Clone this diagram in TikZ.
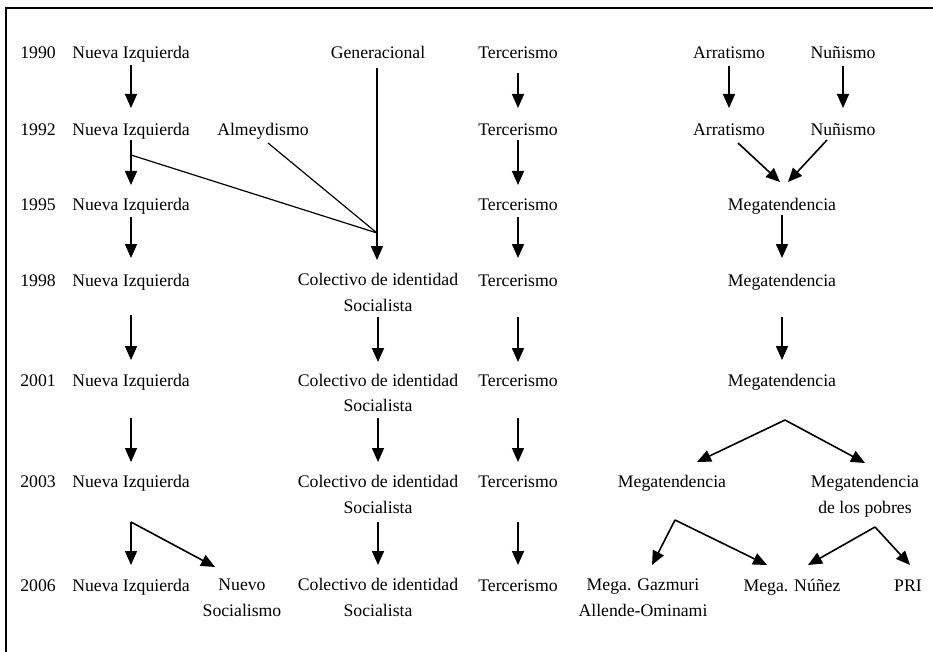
\documentclass[tikz,border=0pt]{standalone}
\usepackage{fontspec}
\setmainfont{Liberation Serif}
\usetikzlibrary{arrows.meta}
\newcommand{\mystrut}{\rule[-4pt]{0pt}{16.5pt}}
\begin{document}
\begin{tikzpicture}[x=1pt,y=-1pt,
  lbl/.style={inner sep=0pt, align=center, font=\fontsize{17.7}{25.5}\selectfont,
    execute at begin node=\mystrut, execute at end node=\mystrut},
  varr/.style={line width=1.6pt, -{Triangle[width=12pt,length=14pt]}},
  plainline/.style={line width=1.2pt},
  frameline/.style={line width=2pt}]
\useasboundingbox (0,0) rectangle (933,652);
\draw[frameline] (6.2,652) -- (6.2,8.3) -- (933,8.3);

% years
\node[lbl] (y90) at (38,54) {1990};
\node[lbl] (y92) at (38,131) {1992};
\node[lbl] (y95) at (38,206) {1995};
\node[lbl] (y98) at (38,282) {1998};
\node[lbl] (y01) at (38,382) {2001};
\node[lbl] (y03) at (38,483) {2003};
\node[lbl] (y06) at (38,587) {2006};

% Nueva Izquierda column
\node[lbl] (ni90) at (131,54) {Nueva Izquierda};
\node[lbl] (ni92) at (131,131) {Nueva Izquierda};
\node[lbl] (ni95) at (131,206) {Nueva Izquierda};
\node[lbl] (ni98) at (131,282) {Nueva Izquierda};
\node[lbl] (ni01) at (131,382) {Nueva Izquierda};
\node[lbl] (ni03) at (131,483) {Nueva Izquierda};
\node[lbl] (ni06) at (131,587) {Nueva Izquierda};
\node[lbl] (ns) at (242,599.5) {Nuevo\\Socialismo};

% Almeydismo / Generacional / Colectivo
\node[lbl] (alm) at (263,131) {Almeydismo};
\node[lbl] (gen) at (378,54) {Generacional};
\node[lbl] (cis98) at (378,294.5) {Colectivo de identidad\\Socialista};
\node[lbl] (cis01) at (378,395) {Colectivo de identidad\\Socialista};
\node[lbl] (cis03) at (378,496.5) {Colectivo de identidad\\Socialista};
\node[lbl] (cis06) at (378,599.5) {Colectivo de identidad\\Socialista};
\coordinate (J) at (377,233);

% Tercerismo
\node[lbl] (ter90) at (518,54) {Tercerismo};
\node[lbl] (ter92) at (518,131) {Tercerismo};
\node[lbl] (ter95) at (518,206) {Tercerismo};
\node[lbl] (ter98) at (518,282) {Tercerismo};
\node[lbl] (ter01) at (518,382) {Tercerismo};
\node[lbl] (ter03) at (518,483) {Tercerismo};
\node[lbl] (ter06) at (518,587) {Tercerismo};

% right side
\node[lbl] (arr90) at (729,54) {Arratismo};
\node[lbl] (nun90) at (843,54) {Nuñismo};
\node[lbl] (arr92) at (729,131) {Arratismo};
\node[lbl] (nun92) at (843,131) {Nuñismo};
\node[lbl] (mega95) at (782,206) {Megatendencia};
\node[lbl] (mega98) at (782,282) {Megatendencia};
\node[lbl] (mega01) at (782,382) {Megatendencia};
\node[lbl] (megaL) at (672,483) {Megatendencia};
\node[lbl] (megaP) at (865,496.5) {Megatendencia\\de los pobres};
\node[lbl] (gaz) at (643,599.5) {Mega. Gazmuri\\Allende-Ominami};
\node[lbl] (nun06) at (792,587) {Mega. Núñez};
\node[lbl] (pri) at (908,587) {PRI};

% Nueva Izquierda arrows
\draw[varr] ([yshift=-11pt]ni90.center) -- ([yshift=23pt]ni92.center);
\draw[varr] ([yshift=-9pt]ni92.center) -- ([yshift=21pt]ni95.center);
\draw[varr] ([yshift=-11pt]ni95.center) -- ([yshift=24pt]ni98.center);
\draw[varr] ([yshift=-33pt]ni98.center) -- ([yshift=22pt]ni01.center);
\draw[varr] ([yshift=-36pt]ni01.center) -- ([yshift=21pt]ni03.center);
\draw[varr] ([yshift=-39pt]ni03.center) -- ([yshift=22pt]ni06.center);
\draw[varr] ([yshift=-39pt]ni03.center) -- ([xshift=-27pt,yshift=32.5pt]ns.center);

% lines into the junction
\draw[plainline] ([yshift=-24pt]ni92.center) -- (J);
\draw[plainline] ([xshift=5pt,yshift=-12pt]alm.center) -- (J);
\draw[varr] ([xshift=-1pt,yshift=-14pt]gen.center) -- ([xshift=-1pt,yshift=34.5pt]cis98.center);

% Colectivo arrows
\draw[varr] ([yshift=-22.5pt]cis98.center) -- ([yshift=33pt]cis01.center);
\draw[varr] ([yshift=-23pt]cis01.center) -- ([yshift=34.5pt]cis03.center);
\draw[varr] ([yshift=-25.5pt]cis03.center) -- ([yshift=34.5pt]cis06.center);

% Tercerismo arrows
\draw[varr] ([yshift=-19pt]ter90.center) -- ([yshift=23pt]ter92.center);
\draw[varr] ([yshift=-9pt]ter92.center) -- ([yshift=21pt]ter95.center);
\draw[varr] ([yshift=-11pt]ter95.center) -- ([yshift=24pt]ter98.center);
\draw[varr] ([yshift=-35pt]ter98.center) -- ([yshift=20pt]ter01.center);
\draw[varr] ([yshift=-36pt]ter01.center) -- ([yshift=21pt]ter03.center);
\draw[varr] ([yshift=-39pt]ter03.center) -- ([yshift=22pt]ter06.center);

% right side arrows
\draw[varr] ([yshift=-12pt]arr90.center) -- ([yshift=23pt]arr92.center);
\draw[varr] ([yshift=-12pt]nun90.center) -- ([yshift=23pt]nun92.center);
\draw[varr] ([xshift=9pt,yshift=-12pt]arr92.center) -- ([xshift=-2pt,yshift=24pt]mega95.center);
\draw[varr] ([xshift=-16pt,yshift=-9pt]nun92.center) -- ([xshift=6pt,yshift=24pt]mega95.center);
\draw[varr] ([yshift=-9pt]mega95.center) -- ([yshift=24pt]mega98.center);
\draw[varr] ([yshift=-35pt]mega98.center) -- ([yshift=22pt]mega01.center);
\draw[varr] ([xshift=3pt,yshift=-38pt]mega01.center) -- ([xshift=25pt,yshift=21pt]megaL.center);
\draw[varr] ([xshift=3pt,yshift=-38pt]mega01.center) -- ([yshift=33.5pt]megaP.center);
\draw[varr] ([xshift=3pt,yshift=-37pt]megaL.center) -- ([xshift=9pt,yshift=34.5pt]gaz.center);
\draw[varr] ([xshift=3pt,yshift=-37pt]megaL.center) -- ([xshift=-25pt,yshift=22pt]nun06.center);
\draw[varr] ([xshift=10pt,yshift=-30.5pt]megaP.center) -- ([xshift=16pt,yshift=22pt]nun06.center);
\draw[varr] ([xshift=10pt,yshift=-30.5pt]megaP.center) -- ([xshift=2pt,yshift=22pt]pri.center);
\end{tikzpicture}
\end{document}
